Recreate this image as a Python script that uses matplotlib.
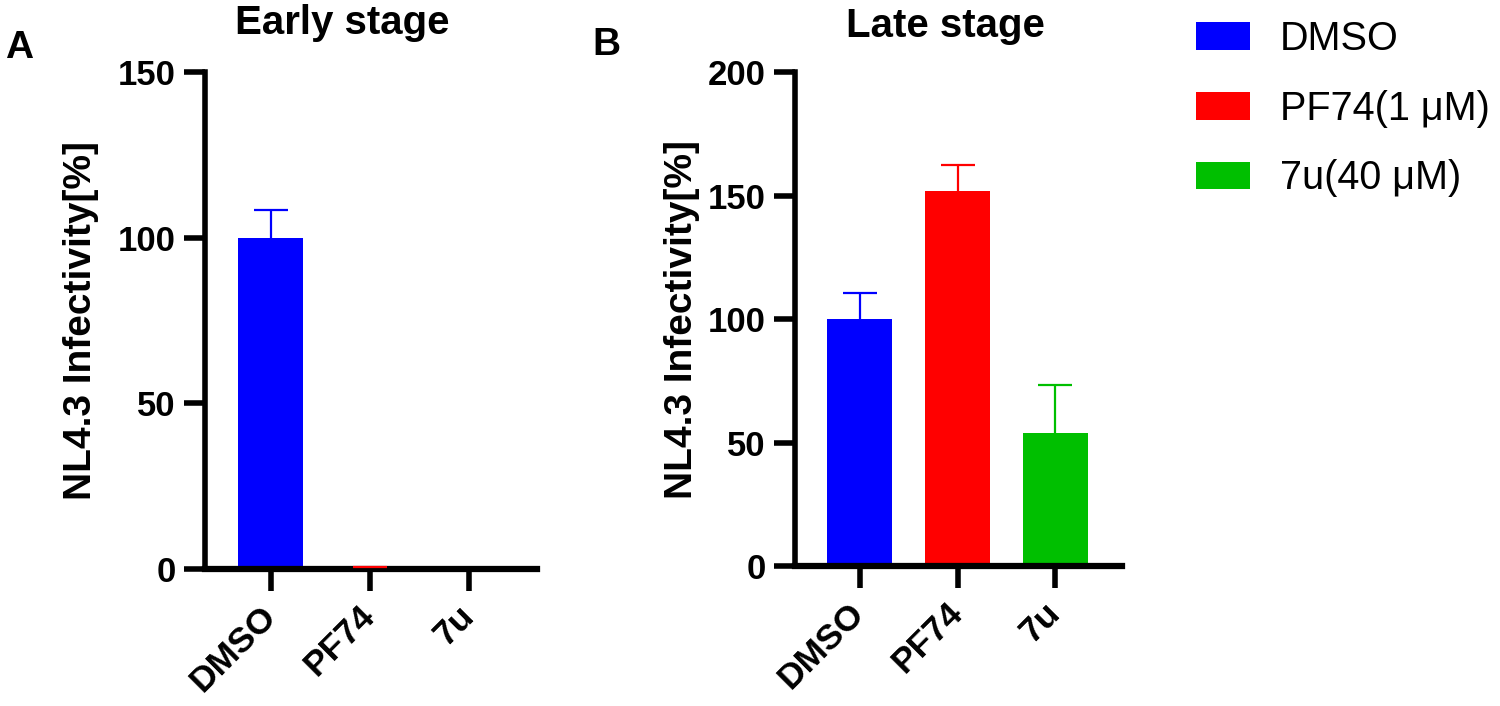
import matplotlib
matplotlib.use('Agg')
import matplotlib.pyplot as plt
from matplotlib.patches import Patch

plt.rcParams['font.family'] = ['Liberation Sans', 'DejaVu Sans']

# dati
categorie = ['DMSO', 'PF74', '7u']
etichette_legenda = ['DMSO', 'PF74(1 μM)', '7u(40 μM)']
colori = ['#0000FF', '#FF0000', '#00BF00']

early_valori = [100, 0.3, 0]
early_err = [8.5, 0.3, 0]

late_valori = [100, 152, 54]
late_err = [10.5, 10.5, 19.5]

fig = plt.figure(figsize=(15, 7.06), dpi=100)
ax1 = fig.add_axes([0.1367, 0.194, 0.2213, 0.704])
ax2 = fig.add_axes([0.530, 0.198, 0.218, 0.700])


def disegna(ax, valori, errori, ymax, passo):
    x = range(len(categorie))
    ax.bar(x, valori, width=0.66, color=colori, zorder=2)
    for xi, v, e, c in zip(x, valori, errori, colori):
        if e > 0:
            _, caps, _ = ax.errorbar(xi, v, yerr=[[0], [e]], ecolor=c, elinewidth=1.6,
                                     capsize=12, capthick=1.6, fmt='none', zorder=3)
            # solo il cappuccio superiore, come in Prism
            for cap in caps:
                if cap.get_ydata()[0] <= v:
                    cap.set_visible(False)
    ax.set_xlim(-0.66, 2.68)
    ax.set_ylim(0, ymax)
    ax.set_yticks(range(0, ymax + 1, passo))
    ax.set_xticks(list(x))
    ax.set_xticklabels(categorie, rotation=45, ha='right', va='center',
                       rotation_mode='anchor', fontsize=25.5, fontweight='bold')
    for lab in ax.get_yticklabels():
        lab.set_fontsize(25)
        lab.set_fontweight('bold')
    for s in ['top', 'right']:
        ax.spines[s].set_visible(False)
    ax.spines['left'].set_linewidth(4)
    ax.spines['bottom'].set_linewidth(4.5)
    ax.tick_params(axis='y', length=15, width=4, pad=6)
    ax.tick_params(axis='x', length=16, width=4, pad=14)
    ax.set_ylabel('NL4.3 Infectivity[%]', fontsize=28, fontweight='bold')


disegna(ax1, early_valori, early_err, 150, 50)
disegna(ax2, late_valori, late_err, 200, 50)

ax1.yaxis.set_label_coords(-0.32, 0.5)
ax2.yaxis.set_label_coords(-0.29, 0.5)

fig.text(342 / 1500, 1 - 34 / 706, 'Early stage', ha='center', va='baseline',
         fontsize=29, fontweight='bold')
fig.text(945 / 1500, 1 - 37 / 706, 'Late stage', ha='center', va='baseline',
         fontsize=29, fontweight='bold')
fig.text(5 / 1500, 1 - 58 / 706, 'A', ha='left', va='baseline',
         fontsize=28, fontweight='bold')
fig.text(592 / 1500, 1 - 55 / 706, 'B', ha='left', va='baseline',
         fontsize=28, fontweight='bold')

maniglie = [Patch(facecolor=c, label=l) for c, l in zip(colori, etichette_legenda)]
fig.legend(handles=maniglie, loc='upper left', bbox_to_anchor=(1196 / 1500, 1 - 20 / 706),
           frameon=False, fontsize=28.5, handlelength=1.36, handleheight=0.71,
           handletextpad=0.75, labelspacing=0.8, borderpad=0, borderaxespad=0)

fig.savefig('out.png', dpi=100)
